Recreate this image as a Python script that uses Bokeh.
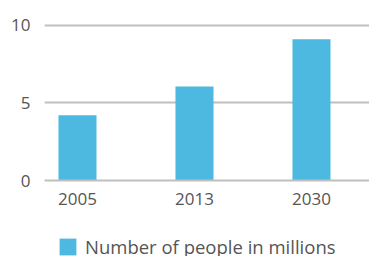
from bokeh.plotting import figure
from bokeh.models import ColumnDataSource, Range1d, FixedTicker, Legend, LegendItem
from bokeh.layouts import column
from bokeh.embed import file_html
from bokeh.resources import INLINE

years = ["2005", "2013", "2030"]
people = [4.2, 6.05, 9.1]
y_ticks = [0, 5, 10]
series_name = "Number of people in millions"

BAR = "#4db8e0"
GRID = "#bfbfbf"
TEXT = "#555555"
FONT = "Open Sans"

pos = list(range(len(years)))
src = ColumnDataSource(dict(x=pos, top=people))

p = figure(frame_width=325, frame_height=167, output_backend="svg", toolbar_location=None,
           x_range=Range1d(-0.282, 2.496), y_range=Range1d(0, 10.75),
           min_border_left=44, min_border_right=0, min_border_top=13, min_border_bottom=36)
p.outline_line_color = None
p.background_fill_color = "white"
p.border_fill_color = "white"

r = p.vbar(x="x", top="top", width=0.325, source=src, fill_color=BAR, line_color=None)

p.xgrid.grid_line_color = None
p.ygrid.grid_line_color = GRID
p.ygrid.grid_line_width = 2
p.ygrid.ticker = FixedTicker(ticks=y_ticks)

p.yaxis.ticker = FixedTicker(ticks=y_ticks)
p.yaxis.axis_line_color = None
p.yaxis.major_tick_line_color = None
p.yaxis.minor_tick_line_color = None
p.yaxis.major_tick_out = 0
p.yaxis.major_tick_in = 0
p.yaxis.major_label_standoff = 14
p.yaxis.major_label_text_font = FONT
p.yaxis.major_label_text_font_size = "17px"
p.yaxis.major_label_text_color = TEXT

p.xaxis.ticker = FixedTicker(ticks=pos)
p.xaxis.major_label_overrides = {i: y for i, y in zip(pos, years)}
p.xaxis.axis_line_color = GRID
p.xaxis.axis_line_width = 2
p.xaxis.major_tick_line_color = None
p.xaxis.minor_tick_line_color = None
p.xaxis.major_tick_out = 0
p.xaxis.major_tick_in = 0
p.xaxis.major_label_standoff = 12
p.xaxis.major_label_text_font = FONT
p.xaxis.major_label_text_font_size = "17px"
p.xaxis.major_label_text_color = TEXT

# legend strip below the chart (its bars sit far outside the visible range)
q = figure(width=369, height=40, output_backend="svg", toolbar_location=None,
           x_range=Range1d(-0.282, 2.496), y_range=Range1d(100, 101),
           x_axis_location=None, y_axis_location=None,
           min_border_left=0, min_border_right=0, min_border_top=0, min_border_bottom=0)
q.outline_line_color = None
q.grid.visible = False
q.background_fill_color = "white"
q.border_fill_color = "white"
r2 = q.vbar(x="x", top="top", width=0.325, source=src, fill_color=BAR, line_color=None)

legend = Legend(items=[LegendItem(label=series_name, renderers=[r2])],
                location=(13, -3), orientation="horizontal",
                margin=0, padding=0, spacing=0,
                glyph_width=21, glyph_height=21, label_standoff=7,
                label_text_font=FONT, label_text_font_size="18.5px",
                label_text_color=TEXT, border_line_color=None,
                background_fill_alpha=0)
q.add_layout(legend, "center")

layout = column(p, q, spacing=0)
open("out.html", "w").write(file_html(layout, INLINE))
